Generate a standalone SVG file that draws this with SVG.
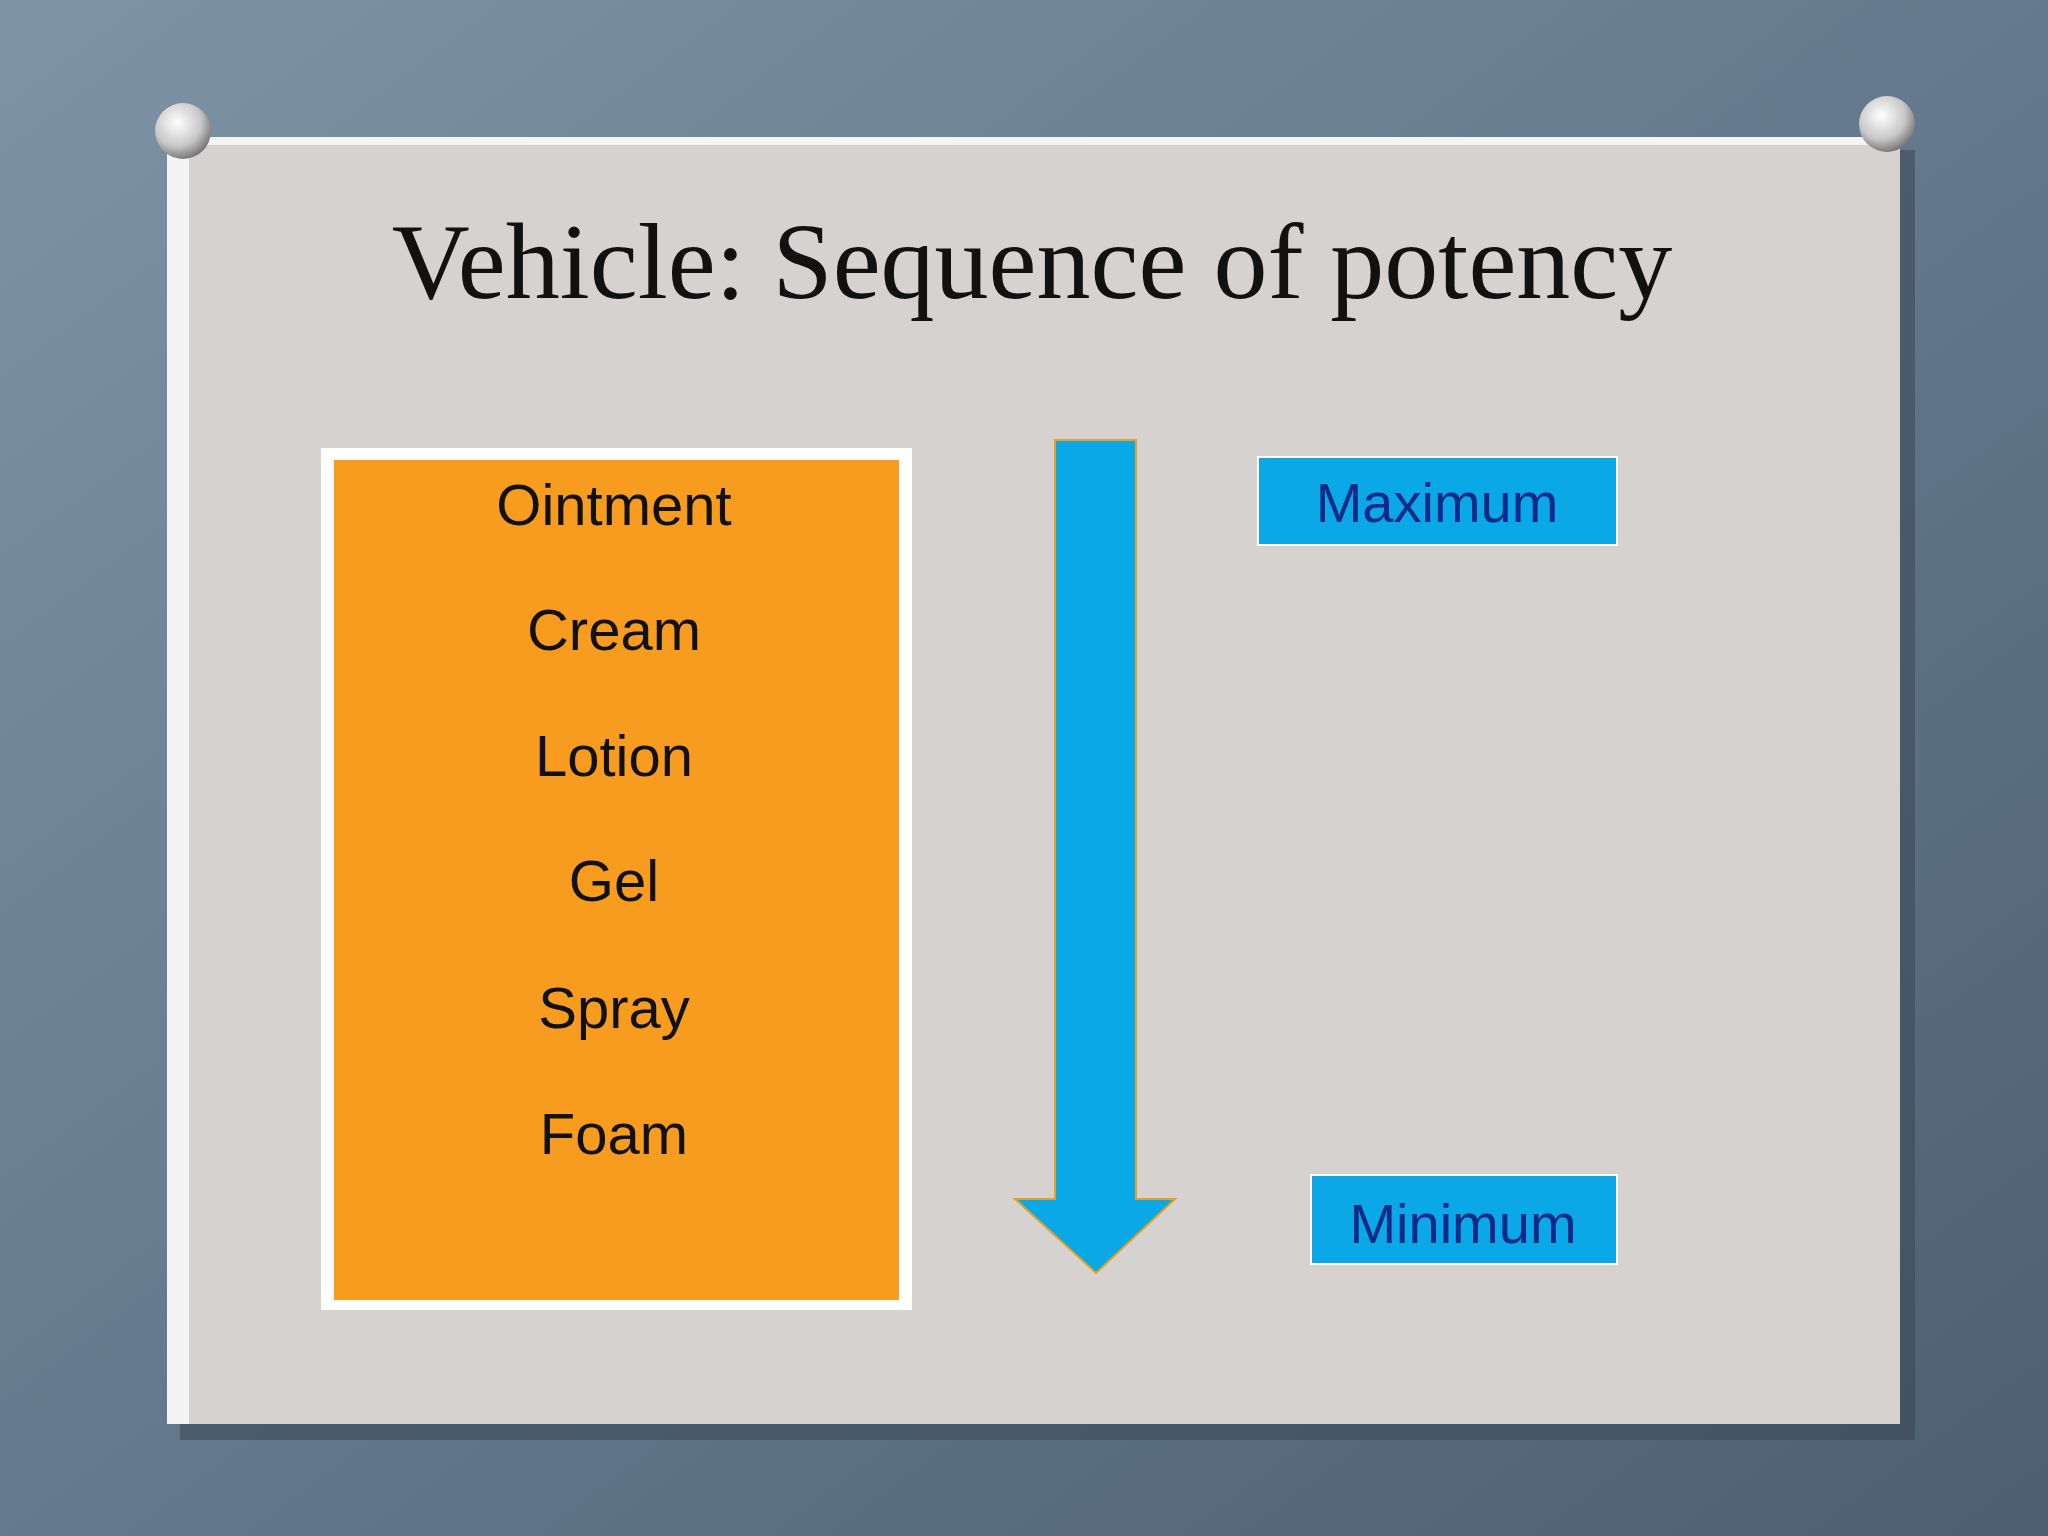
<svg xmlns="http://www.w3.org/2000/svg" width="2048" height="1536" viewBox="0 0 2048 1536">
<defs>
<linearGradient id="bg" x1="0" y1="0" x2="1" y2="1"><stop offset="0" stop-color="#7f93a6"/><stop offset="0.6" stop-color="#5f7488"/><stop offset="1" stop-color="#4d5f70"/></linearGradient>
<radialGradient id="pin" cx="0.4" cy="0.35" r="0.7"><stop offset="0" stop-color="#ffffff"/><stop offset="0.6" stop-color="#c8c8c8"/><stop offset="1" stop-color="#6a6a6a"/></radialGradient>
<style>
.item{font-family:"Liberation Sans",Arial,sans-serif;font-size:58px;fill:#111;text-anchor:middle}
.lbl{font-family:"Liberation Sans",Arial,sans-serif;font-size:56px;fill:#0b2a8a;text-anchor:middle}
.tag{fill:#0aa8e6;stroke:#ffffff;stroke-width:2}
</style>
</defs>
<rect width="2048" height="1536" fill="url(#bg)"/>
<rect x="180" y="150" width="1735" height="1290" fill="#3c4a58" opacity="0.6"/>
<rect x="167" y="137" width="1733" height="1287" fill="#d6d2cf"/>
<rect x="167" y="137" width="1733" height="8" fill="#f4f4f4"/>
<rect x="167" y="137" width="22" height="1287" fill="#f4f4f4"/>
<g id="pins">
<circle cx="183" cy="131" r="28" fill="url(#pin)"/>
<circle cx="1887" cy="124" r="28" fill="url(#pin)"/>
</g>
<g id="title"><text x="1032" y="298" font-family="Liberation Serif,serif" font-size="108" fill="#111" text-anchor="middle">Vehicle: Sequence of potency</text></g>
<g id="list">
<rect x="321" y="448" width="591" height="862" fill="#ffffff"/>
<rect x="334" y="460" width="565" height="840" fill="#f79c1f"/>
<text class="item" x="614" y="525">Ointment</text>
<text class="item" x="614" y="650">Cream</text>
<text class="item" x="614" y="776">Lotion</text>
<text class="item" x="614" y="901">Gel</text>
<text class="item" x="614" y="1028">Spray</text>
<text class="item" x="614" y="1154">Foam</text>
</g>
<g id="connectors">
<path d="M1055 440 H1136 V1199 H1175 L1096 1273 L1015 1199 H1055 Z" fill="#0aa8e6" stroke="#e8a020" stroke-width="2"/>
</g>
<g id="maximum"><rect class="tag" x="1258" y="457" width="359" height="88"/><text class="lbl" x="1437" y="522">Maximum</text></g>
<g id="minimum"><rect class="tag" x="1311" y="1175" width="306" height="89"/><text class="lbl" x="1463" y="1243">Minimum</text></g>
</svg>
